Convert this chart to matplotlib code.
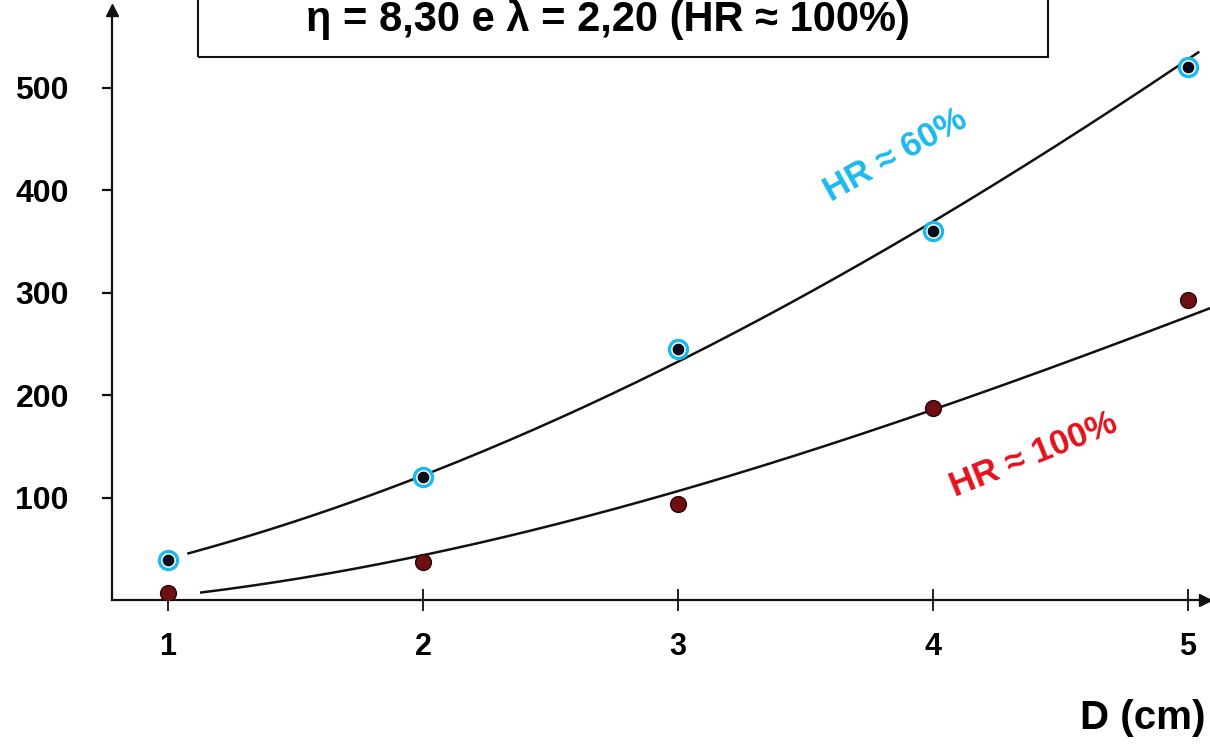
import numpy as np
import matplotlib
matplotlib.use('Agg')
import matplotlib.pyplot as plt
from matplotlib.patches import Rectangle

plt.rcParams['font.family'] = ['Liberation Sans', 'DejaVu Sans']

# measured points
diam = [1, 2, 3, 4, 5]
hr60 = [39, 120, 245, 360, 520]
hr100 = [7, 37, 94, 187, 293]

# readings along the drawn fit curves
curve60_d = [1.08, 2, 3, 4, 5.04]
curve60_v = [46, 120, 235, 368, 535]
curve100_d = [1.13, 1.5, 2, 3, 4, 5.09]
curve100_v = [8, 18, 47, 104, 187, 285]

yticks = [100, 200, 300, 400, 500]
title = 'η = 8,30 e λ = 2,20 (HR ≈ 100%)'

cyan = '#1bb9ec'
red = '#e2121c'
dark_red = '#6e1012'
ink = '#111111'

fig = plt.figure(figsize=(12.1, 7.47), dpi=100)
ax = fig.add_axes([112 / 1210, 147 / 747, 1098 / 1210, 590 / 747])
ax.set_xlim(0.78, 5.086)
ax.set_ylim(0, 576)

# fitted curves
for cd, cv in [(curve60_d, curve60_v), (curve100_d, curve100_v)]:
    coef = np.polyfit(cd, cv, 3)
    xs = np.linspace(cd[0], cd[-1], 200)
    ax.plot(xs, np.polyval(coef, xs), color=ink, lw=1.8, zorder=2)

# HR 60% : cyan ring with black dot
ax.scatter(diam, hr60, s=170, facecolors='white', edgecolors=cyan,
           linewidths=2.4, zorder=3)
ax.scatter(diam, hr60, s=55, color='#0a0a1a', zorder=4)
# HR 100% : dark red dots
ax.scatter(diam, hr100, s=130, color=dark_red, edgecolors='#2a0505',
           linewidths=1.0, zorder=3)

# axes
for side in ['top', 'right']:
    ax.spines[side].set_visible(False)
for side in ['left', 'bottom']:
    ax.spines[side].set_linewidth(1.6)
    ax.spines[side].set_color(ink)
ax.plot(0, 1, '^', color=ink, ms=9, transform=ax.transAxes, clip_on=False)
ax.plot(0.995, 0, '>', color=ink, ms=9, transform=ax.transAxes,
        clip_on=False)

ax.set_yticks(yticks)
ax.set_yticklabels([str(t) for t in yticks], fontsize=23, fontweight='bold')
ax.set_xticks(diam)
ax.set_xticklabels([str(d) for d in diam], fontsize=22, fontweight='bold')
ax.tick_params(axis='y', direction='out', length=7, width=1.6, pad=24,
               color=ink)
ax.tick_params(axis='x', direction='inout', length=16, width=1.3, pad=15,
               color=ink)

ax.text(895 / 1210, 1 - 155 / 747, 'HR ≈ 60%', transform=fig.transFigure,
        color=cyan, fontsize=25, fontweight='bold', rotation=29,
        ha='center', va='center')
ax.text(1034 / 1210, 1 - 455 / 747, 'HR ≈ 100%', transform=fig.transFigure,
        color=red, fontsize=25, fontweight='bold', rotation=22,
        ha='center', va='center')

# title box
fig.add_artist(Rectangle((198 / 1210, 1 - 57 / 747), 850 / 1210, 0.2,
                         transform=fig.transFigure, fill=False,
                         edgecolor=ink, lw=1.5))
fig.text(608 / 1210, 1 - 19 / 747, title, fontsize=30, fontweight='bold',
         ha='center', va='center')

fig.text(1080 / 1210, 1 - 718 / 747, 'D (cm)', fontsize=29,
         fontweight='bold', ha='left', va='center')

fig.savefig('out.png', dpi=100)
